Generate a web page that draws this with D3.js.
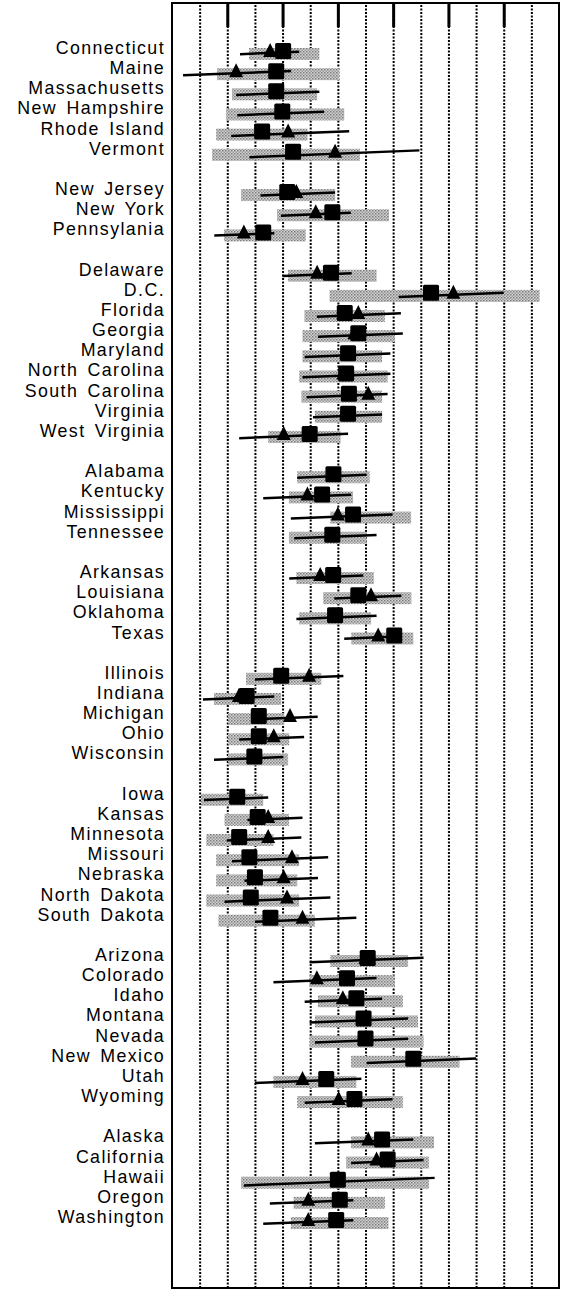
<!DOCTYPE html>
<html>
<head>
<meta charset="utf-8">
<script src="https://cdn.jsdelivr.net/npm/d3@7"></script>
<style>
  html, body { margin: 0; padding: 0; background: #fff; }
  svg { display: block; }
</style>
</head>
<body>
<svg id="chart" width="563" height="1290"></svg>
<script>
// State names, listed by region (groups separated by a blank row)
const states = [
  "Connecticut", "Maine", "Massachusetts", "New Hampshire", "Rhode Island", "Vermont",
  "New Jersey", "New York", "Pennsylania",
  "Delaware", "D.C.", "Florida", "Georgia", "Maryland", "North Carolina", "South Carolina", "Virginia", "West Virginia",
  "Alabama", "Kentucky", "Mississippi", "Tennessee",
  "Arkansas", "Louisiana", "Oklahoma", "Texas",
  "Illinois", "Indiana", "Michigan", "Ohio", "Wisconsin",
  "Iowa", "Kansas", "Minnesota", "Missouri", "Nebraska", "North Dakota", "South Dakota",
  "Arizona", "Colorado", "Idaho", "Montana", "Nevada", "New Mexico", "Utah", "Wyoming",
  "Alaska", "California", "Hawaii", "Oregon", "Washington"
];
const groupSizes = [6, 3, 9, 4, 4, 5, 7, 8, 5];

// Point estimates (square) and second estimates (triangle)
const squareVals = [
  4.02, 3.77, 3.77, 3.99, 3.26, 4.38,
  4.17, 5.80, 3.30,
  5.75, 9.37, 6.25, 6.74, 6.37, 6.30, 6.40, 6.37, 4.98,
  5.84, 5.43, 6.55, 5.80,
  5.83, 6.74, 5.90, 8.04,
  3.95, 2.70, 3.14, 3.14, 2.98,
  2.36, 3.10, 2.43, 2.80, 3.00, 2.85, 3.56,
  7.08, 6.33, 6.67, 6.93, 7.00, 8.73, 5.58, 6.60,
  7.60, 7.80, 6.00, 6.07, 5.94
];
const triangleVals = [
  3.55, 2.32, 3.77, 3.99, 4.20, 5.90,
  4.50, 5.20, 2.60,
  5.25, 10.18, 6.74, 6.60, 6.30, 6.20, 7.10, 6.30, 4.04,
  5.80, 4.90, 6.00, 5.75,
  5.36, 7.20, 5.85, 7.46,
  4.96, 2.42, 4.27, 3.68, 2.95,
  2.30, 3.48, 3.48, 4.34, 4.04, 4.16, 4.72,
  7.00, 5.24, 6.18, 6.90, 6.95, 8.70, 4.72, 6.03,
  7.10, 7.40, 5.95, 4.93, 4.93
];

// Black interval (thin line)
const lineLow = [
  2.46, 0.40, 2.32, 2.36, 2.14, 2.80,
  3.20, 3.94, 1.53,
  4.00, 8.20, 5.24, 5.28, 4.80, 4.72, 4.87, 5.10, 2.43,
  4.53, 3.30, 4.30, 4.42,
  4.24, 5.87, 4.50, 6.23,
  3.00, 1.12, 2.90, 2.43, 1.52,
  1.16, 2.73, 1.98, 2.17, 2.62, 1.90, 3.00,
  4.98, 3.67, 4.80, 4.98, 5.17, 7.04, 3.00, 4.80,
  5.17, 6.48, 2.60, 3.54, 3.30
];
const lineHigh = [
  4.60, 4.31, 5.33, 5.50, 6.41, 8.95,
  5.90, 6.47, 3.70,
  6.50, 12.00, 8.28, 8.35, 7.90, 7.90, 7.80, 7.60, 6.37,
  7.04, 6.48, 7.98, 7.40,
  6.92, 8.30, 7.40, 8.30,
  6.20, 3.70, 5.27, 4.78, 4.03,
  3.48, 4.72, 4.68, 5.65, 5.28, 5.73, 6.67,
  9.10, 7.40, 7.60, 8.54, 8.54, 11.00, 6.85, 7.98,
  8.73, 9.10, 9.50, 6.56, 6.56
];

// Gray interval (wide band)
const bandLow = [
  2.79, 1.63, 2.17, 1.96, 1.60, 1.45,
  2.50, 3.80, 1.88,
  4.20, 5.70, 4.79, 4.72, 4.72, 4.60, 4.68, 5.17, 3.48,
  4.53, 4.23, 5.73, 4.23,
  4.50, 5.47, 4.60, 6.49,
  2.68, 1.52, 2.03, 2.03, 2.03,
  1.05, 1.90, 1.24, 1.60, 1.60, 1.24, 1.68,
  5.73, 4.98, 5.28, 5.17, 4.98, 6.48, 3.67, 4.53,
  6.48, 6.30, 2.50, 4.40, 4.30
];
const bandHigh = [
  5.33, 6.05, 5.25, 6.23, 4.90, 6.80,
  5.90, 7.85, 4.84,
  7.40, 13.30, 7.70, 8.05, 7.60, 7.80, 7.60, 7.60, 6.10,
  7.15, 6.55, 8.65, 7.04,
  7.30, 8.66, 7.20, 8.73,
  5.40, 3.95, 4.06, 4.24, 4.20,
  3.30, 4.23, 3.67, 4.60, 4.53, 4.60, 5.17,
  8.54, 8.05, 8.35, 8.90, 9.10, 10.40, 6.67, 8.35,
  9.48, 9.30, 9.30, 7.70, 7.83
];

// Grid positions along the value axis
const gridVals = d3.range(1, 14);
const majorTickVals = [2, 4, 6, 8, 10, 12];

const rows = states.map((s, i) => ({
  state: s,
  sq: squareVals[i], tri: triangleVals[i],
  lo: lineLow[i], hi: lineHigh[i],
  bLo: bandLow[i], bHi: bandHigh[i]
}));

const svg = d3.select("#chart");
const frame = { left: 172, right: 559, top: 3, bottom: 1288 };

// Stippled fill for the gray bands
const pat = svg.append("defs").append("pattern")
  .attr("id", "stipple")
  .attr("patternUnits", "userSpaceOnUse")
  .attr("width", 3).attr("height", 3);
pat.append("rect").attr("width", 3).attr("height", 3).attr("fill", "#d2d2d2");
pat.append("rect").attr("width", 1.5).attr("height", 1.5).attr("fill", "#7c7c7c");
pat.append("rect").attr("x", 1.5).attr("y", 1.5).attr("width", 1.5).attr("height", 1.5).attr("fill", "#9a9a9a");

const x = d3.scaleLinear().domain([0, 14]).range([frame.left, frame.right]);

// One slot per state plus a blank slot between regions
const slots = [];
{
  let k = 0;
  groupSizes.forEach((n, gi) => {
    if (gi > 0) slots.push("gap" + gi);
    for (let i = 0; i < n; i++) slots.push(states[k++]);
  });
}
const y = d3.scalePoint().domain(slots).range([51, 1220]);

// Dotted reference lines
const gridG = svg.append("g")
  .attr("transform", `translate(0,${frame.bottom})`)
  .call(d3.axisBottom(x).tickValues(gridVals).tickSize(-(frame.bottom - frame.top)).tickFormat(""));
gridG.select(".domain").remove();
gridG.selectAll(".tick line")
  .attr("stroke", "#000")
  .attr("stroke-width", 2)
  .attr("stroke-dasharray", "2 1.5");

// Short solid ticks hanging from the top edge
const topTicks = svg.append("g")
  .attr("transform", `translate(0,${frame.top})`)
  .call(d3.axisTop(x).tickValues(majorTickVals).tickSize(-24).tickFormat(""));
topTicks.select(".domain").remove();
topTicks.selectAll(".tick line").attr("stroke", "#000").attr("stroke-width", 3);

// Plot frame
svg.append("rect")
  .attr("x", frame.left).attr("y", frame.top)
  .attr("width", frame.right - frame.left).attr("height", frame.bottom - frame.top)
  .attr("fill", "none").attr("stroke", "#000").attr("stroke-width", 2);

// Row labels
svg.append("g").selectAll("text")
  .data(rows).join("text")
  .attr("x", 165)
  .attr("y", d => y(d.state) - 3)
  .attr("text-anchor", "end")
  .attr("dominant-baseline", "central")
  .attr("font-family", "'Liberation Sans', Arial, sans-serif")
  .attr("font-size", 17.8)
  .attr("letter-spacing", 1.4)
  .attr("word-spacing", 3)
  .attr("fill", "#000")
  .text(d => d.state);

const marks = svg.append("g");

// Gray bands
marks.append("g").selectAll("rect")
  .data(rows).join("rect")
  .attr("x", d => x(d.bLo))
  .attr("y", d => y(d.state) - 3)
  .attr("width", d => x(d.bHi) - x(d.bLo))
  .attr("height", 12)
  .attr("fill", "url(#stipple)");

// Black intervals (drawn with a slight upward slant)
const slant = 0.04;
marks.append("g").selectAll("line")
  .data(rows).join("line")
  .attr("x1", d => x(d.lo))
  .attr("x2", d => x(d.hi))
  .attr("y1", d => y(d.state) + 2 + slant * (x(d.hi) - x(d.lo)) / 2)
  .attr("y2", d => y(d.state) + 2 - slant * (x(d.hi) - x(d.lo)) / 2)
  .attr("stroke", "#000")
  .attr("stroke-width", 2.5);

// Triangles
marks.append("g").selectAll("path")
  .data(rows).join("path")
  .attr("d", d => {
    const cx = x(d.tri), cy = y(d.state);
    return `M${cx - 7},${cy + 6}L${cx + 7},${cy + 6}L${cx},${cy - 8}Z`;
  })
  .attr("fill", "#000");

// Squares
marks.append("g").selectAll("rect")
  .data(rows).join("rect")
  .attr("x", d => x(d.sq) - 8)
  .attr("y", d => y(d.state) - 8)
  .attr("width", 16)
  .attr("height", 16)
  .attr("rx", 1.5)
  .attr("fill", "#000");
</script>
</body>
</html>
